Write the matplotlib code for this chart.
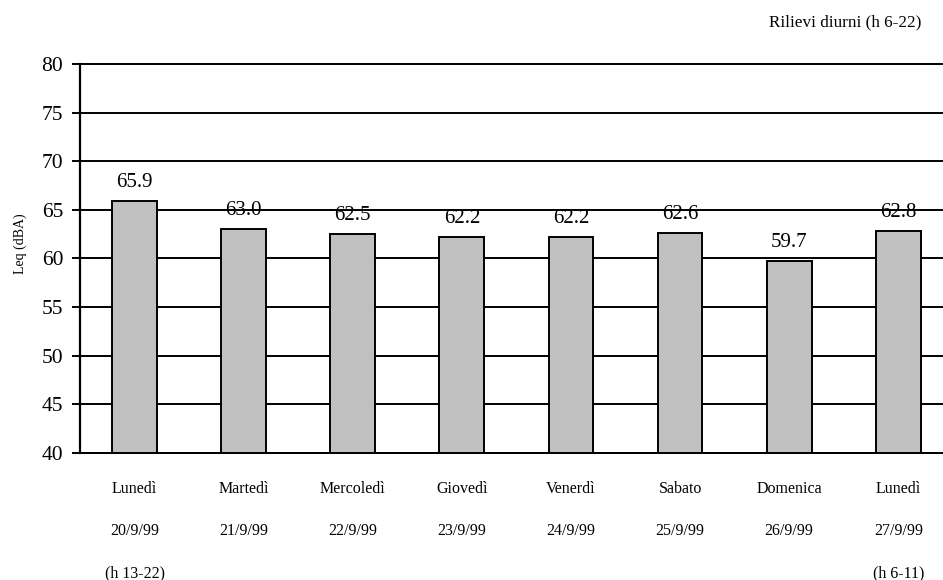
import numpy as np
import matplotlib
matplotlib.use("Agg")
import matplotlib.pyplot as plt
import matplotlib.transforms as mtransforms

giorni = ["Lunedì", "Martedì", "Mercoledì", "Giovedì", "Venerdì", "Sabato", "Domenica", "Lunedì"]
date = ["20/9/99", "21/9/99", "22/9/99", "23/9/99", "24/9/99", "25/9/99", "26/9/99", "27/9/99"]
orari = ["(h 13-22)", "", "", "", "", "", "", "(h 6-11)"]
leq = [65.9, 63.0, 62.5, 62.2, 62.2, 62.6, 59.7, 62.8]
yticks = [40, 45, 50, 55, 60, 65, 70, 75, 80]

plt.rcParams['font.family'] = ['Liberation Serif', 'DejaVu Serif']

fig = plt.figure(figsize=(9.43, 5.8), dpi=100)
ax = fig.add_axes([80/943, 1-453/580, 863/943, (453-64)/580])

x = np.arange(len(leq))
base = 40
ax.bar(x, np.array(leq) - base, bottom=base, width=0.41, color='#C0C0C0',
       edgecolor='black', linewidth=1.4, zorder=3)

for xi, v in zip(x, leq):
    ax.annotate("%.1f" % v, (xi, v), xytext=(0, 6.5), textcoords='offset points',
                ha='center', va='bottom', fontsize=15, zorder=5)

ax.set_ylim(40, 80)
ax.set_xlim(-0.5, 7.41)
ax.set_yticks(yticks)
ax.tick_params(axis='y', labelsize=15.5, length=6, width=1.4, direction='out', pad=6)
ax.set_xticks([])
ax.yaxis.grid(True, color='black', linewidth=1.4, zorder=0)
ax.set_axisbelow(True)
for gl in ax.get_ygridlines():
    gl.set_clip_on(False)
for s in ['top', 'right']:
    ax.spines[s].set_visible(False)
ax.spines['left'].set_linewidth(1.6)
ax.spines['bottom'].set_linewidth(1.4)

ax.set_ylabel("Leq (dBA)", fontsize=10)
ax.yaxis.set_label_coords(-0.0615, 0.537)

trans = mtransforms.blended_transform_factory(ax.transData, fig.transFigure)
for xi in x:
    ax.text(xi, 1-489/580, giorni[xi], transform=trans, ha='center', va='center', fontsize=11.5)
    ax.text(xi, 1-531/580, date[xi], transform=trans, ha='center', va='center', fontsize=11.5)
    if orari[xi]:
        ax.text(xi, 1-573/580, orari[xi], transform=trans, ha='center', va='center', fontsize=11.5)

fig.text(921/943, 1-22/580, "Rilievi diurni (h 6-22)", ha='right', va='center', fontsize=12.3)

fig.savefig("out.png", dpi=100)
